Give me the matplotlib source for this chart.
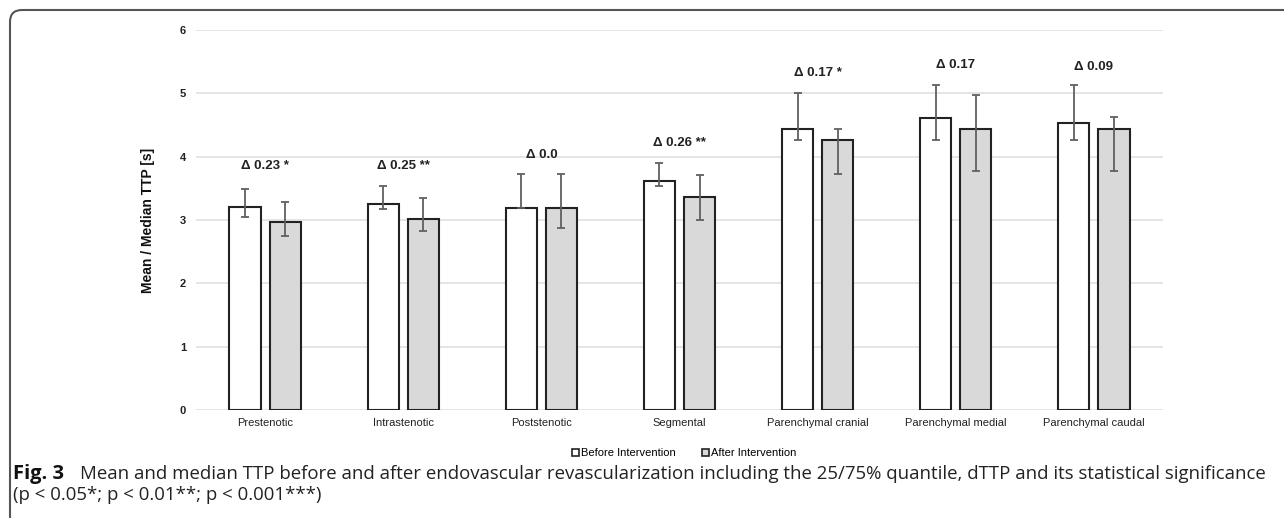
import numpy as np
import matplotlib.pyplot as plt
from matplotlib.patches import FancyBboxPatch

# TTP per segment, before / after intervention (with 25/75% quantiles)
categories = ['Prestenotic', 'Intrastenotic', 'Poststenotic', 'Segmental',
              'Parenchymal cranial', 'Parenchymal medial', 'Parenchymal caudal']
before = [3.20, 3.26, 3.19, 3.62, 4.43, 4.61, 4.53]
before_q25 = [3.05, 3.18, 3.19, 3.54, 4.26, 4.26, 4.26]
before_q75 = [3.49, 3.54, 3.72, 3.90, 5.01, 5.14, 5.14]
after = [2.97, 3.01, 3.19, 3.36, 4.26, 4.44, 4.44]
after_q25 = [2.75, 2.83, 2.87, 3.00, 3.73, 3.77, 3.77]
after_q75 = [3.29, 3.35, 3.72, 3.71, 4.44, 4.97, 4.62]
delta_labels = ['Δ 0.23 *', 'Δ 0.25 **', 'Δ 0.0', 'Δ 0.26 **',
                'Δ 0.17 *', 'Δ 0.17', 'Δ 0.09']
delta_y = [3.86, 3.86, 4.03, 4.21, 5.32, 5.45, 5.42]

plt.rcParams['font.family'] = ['Liberation Sans', 'DejaVu Sans']

fig = plt.figure(figsize=(12.84, 5.18), dpi=100)
ax = fig.add_axes([0.1526, 0.2085, 0.7532, 0.7335])

x = np.arange(len(categories))
w = 0.225
off = 0.145

b = np.array(before)
a = np.array(after)
err_b = [b - np.array(before_q25), np.array(before_q75) - b]
err_a = [a - np.array(after_q25), np.array(after_q75) - a]

ax.bar(x - off, b, w, color='white', edgecolor='#222222', linewidth=1.5,
       label='Before Intervention', zorder=2)
ax.bar(x + off, a, w, color='#d9d9d9', edgecolor='#222222', linewidth=1.5,
       label='After Intervention', zorder=2)
ax.errorbar(x - off, b, yerr=err_b, fmt='none', ecolor='#606060',
            elinewidth=1.3, capsize=3, capthick=1.3, zorder=3)
ax.errorbar(x + off, a, yerr=err_a, fmt='none', ecolor='#606060',
            elinewidth=1.3, capsize=3, capthick=1.3, zorder=3)

for xi, lab, yy in zip(x, delta_labels, delta_y):
    ax.text(xi, yy, lab, ha='center', va='center', fontsize=9.5,
            fontweight='bold', color='#222222')

ax.set_xlim(-0.5, len(categories) - 0.5)
ax.set_ylim(0, 6)
ax.set_yticks(range(7))
ax.grid(axis='y', color='#e0e0e0', linewidth=1.2, zorder=0)
ax.set_axisbelow(True)
for s in ax.spines.values():
    s.set_visible(False)
ax.tick_params(axis='both', length=0)
ax.tick_params(axis='y', pad=7)
ax.tick_params(axis='x', pad=6)
ax.set_xticks(x)
ax.set_xticklabels(categories, fontsize=8, color='#222222')
for t in ax.get_yticklabels():
    t.set_fontweight('bold')
    t.set_fontsize(8)
    t.set_color('#222222')
ax.set_ylabel('Mean / Median TTP [s]', fontsize=10, fontweight='bold',
              color='#111111')
ax.yaxis.set_label_coords(-0.042, 0.5)

leg = ax.legend(loc='upper center', bbox_to_anchor=(0.505, -0.075), ncol=2,
                frameon=False, fontsize=8, handlelength=0.6, handleheight=0.6,
                handletextpad=0.2, columnspacing=2.4)
for h in leg.legend_handles:
    h.set_linewidth(1.2)

# caption
cap_y1 = 1 - 474 / 518
cap_y2 = 1 - 495 / 518
fig.text(0.010, cap_y1, 'Fig. 3', fontsize=14.5, va='center',
         family='Open Sans', fontweight='bold', color='#111111')
fig.text(0.0625, cap_y1,
         'Mean and median TTP before and after endovascular revascularization '
         'including the 25/75% quantile, dTTP and its statistical significance',
         fontsize=13.4, va='center', family='Open Sans', color='#222222')
fig.text(0.010, cap_y2, '(p < 0.05*; p < 0.01**; p < 0.001***)',
         fontsize=13.4, va='center', family='Open Sans', color='#222222')

# rounded frame around the figure panel
frame = FancyBboxPatch((0.1, -0.5), 13.5, 5.58,
                       boxstyle='round,pad=0,rounding_size=0.12',
                       transform=fig.dpi_scale_trans, facecolor='none',
                       edgecolor='#555555', linewidth=1.5)
fig.patches.append(frame)

fig.savefig('out.png', dpi=100)
